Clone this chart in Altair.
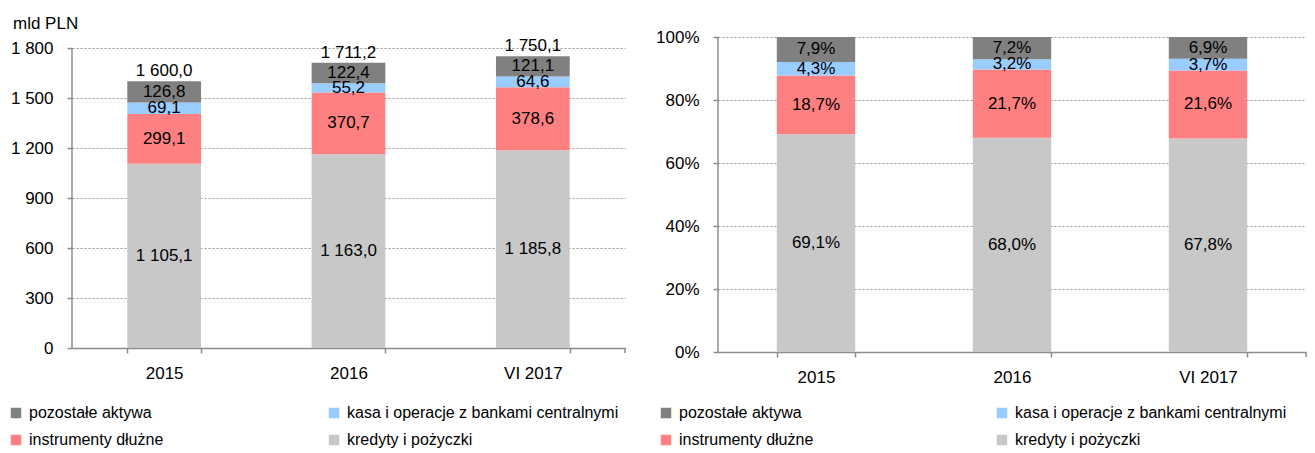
import altair as alt
import pandas as pd

FONT = "Liberation Sans, Arial"
FS = 17
LFS = 16

categories = ["2015", "2016", "VI 2017"]
series = ["pozostałe aktywa", "kasa i operacje z bankami centralnymi",
          "instrumenty dłużne", "kredyty i pożyczki"]
colors = ["#808080", "#99CCFF", "#FF8080", "#C8C8C8"]
stack_order = [3, 2, 1, 0]  # kredyty at the bottom
# legend is filled column by column: order the domain so rows read as in the original
legend_order = [0, 2, 1, 3]

# left panel: mld PLN
pozostale_mld = [126.8, 122.4, 121.1]
kasa_mld = [69.1, 55.2, 64.6]
instrumenty_mld = [299.1, 370.7, 378.6]
kredyty_mld = [1105.1, 1163.0, 1185.8]
totals_mld = [1600.0, 1711.2, 1750.1]

# right panel: structure in %
pozostale_pct = [7.9, 7.2, 6.9]
kasa_pct = [4.3, 3.2, 3.7]
instrumenty_pct = [18.7, 21.7, 21.6]
kredyty_pct = [69.1, 68.0, 67.8]

left_ticks = [0, 300, 600, 900, 1200, 1500, 1800]
right_ticks = [0, 20, 40, 60, 80, 100]


def pl(v):
    return f"{v:,.1f}".replace(",", " ").replace(".", ",")


def build(vals, pct):
    rows = []
    for s, o, arr in zip(series, stack_order, vals):
        for c, v in zip(categories, arr):
            rows.append({"cat": c, "series": s, "order": o, "value": v,
                         "label": pl(v) + ("%" if pct else "")})
    return pd.DataFrame(rows)


df_left = build([pozostale_mld, kasa_mld, instrumenty_mld, kredyty_mld], False)
df_right = build([pozostale_pct, kasa_pct, instrumenty_pct, kredyty_pct], True)
df_tot = pd.DataFrame({"cat": categories, "total": totals_mld,
                       "label": [pl(v) for v in totals_mld]})

AX = "#8C8C8C"
dom = [series[i] for i in legend_order]
rng = [colors[i] for i in legend_order]


def panel(df, width, height, ymax, ticks, label_expr, legend_x, legend_y, col_pad, domain_top):
    xenc = alt.X("cat:N", sort=categories,
                 scale=alt.Scale(paddingInner=0.6, paddingOuter=0.3),
                 axis=alt.Axis(title=None, labelAngle=0, tickBand="extent",
                               domainColor=AX, domainWidth=1.5, tickColor=AX,
                               tickWidth=1.5, tickSize=5, labelFontSize=FS,
                               labelFont=FONT, labelColor="black",
                               labelPadding=12, grid=False))
    yscale = alt.Scale(domain=[0, ymax], nice=False, zero=True)
    base = alt.Chart(df).transform_stack(
        stack="value", groupby=["cat"],
        sort=[alt.SortField("order", order="ascending")],
        as_=["v0", "v1"]
    ).transform_calculate(mid="(datum.v0 + datum.v1) / 2")
    bars = base.mark_bar(clip=True).encode(
        x=xenc,
        y=alt.Y("v0:Q", scale=yscale,
                axis=alt.Axis(title=None, values=ticks, labelExpr=label_expr,
                              domain=False, tickColor=AX, tickWidth=1.5,
                              tickSize=5, labelFontSize=FS, labelFont=FONT,
                              labelColor="black", labelPadding=14,
                              gridColor="#999999", gridDash=[2, 2],
                              gridWidth=1)),
        y2="v1:Q",
        color=alt.Color("series:N", scale=alt.Scale(domain=dom, range=rng),
                        legend=alt.Legend(title=None, orient="none",
                                          legendX=legend_x, legendY=legend_y,
                                          columns=2, columnPadding=col_pad,
                                          rowPadding=11, padding=0,
                                          symbolType="square",
                                          symbolSize=110, symbolStrokeWidth=0,
                                          labelFontSize=LFS, labelFont=FONT,
                                          labelColor="black", labelOffset=5,
                                          labelLimit=500)),
        order=alt.Order("order:Q", sort="ascending"),
    )
    texts = base.mark_text(fontSize=FS, font=FONT, color="black").encode(
        x=alt.X("cat:N", sort=categories),
        y=alt.Y("mid:Q"),
        text="label:N",
    )
    axis_line = alt.Chart(pd.DataFrame({"a": [0], "b": [domain_top]})).mark_rule(
        color=AX, strokeWidth=1.5).encode(
        x=alt.value(0), y=alt.Y("a:Q"), y2="b:Q")
    end_tick = alt.Chart(pd.DataFrame({"a": [0]})).mark_rule(
        color=AX, strokeWidth=1.5).encode(
        x=alt.value(width), y=alt.value(height), y2=alt.value(height + 5))
    return [bars, texts, axis_line, end_tick], width, height


l_layers, lw, lh = panel(df_left, 553, 311, 1866, left_ticks,
                         "replace(format(datum.value, ',d'), ',', ' ')",
                         -64, 368, 162, 1800)
totals = alt.Chart(df_tot).mark_text(fontSize=FS, font=FONT, color="black",
                                      baseline="bottom", dy=-1).encode(
    x=alt.X("cat:N", sort=categories), y=alt.Y("total:Q"), text="label:N")
left = alt.layer(*l_layers, totals).properties(
    width=lw, height=lh,
    title=alt.TitleParams("mld PLN", anchor="start", frame="group", dx=-59,
                          fontSize=FS, font=FONT, fontWeight="normal",
                          color="black", offset=4))

r_layers, rw, rh = panel(df_right, 588, 315, 100, right_ticks,
                         "datum.value + '%'", -60, 368, 180, 100)
right = alt.layer(*r_layers).properties(width=rw, height=rh)

chart = alt.hconcat(left, right, spacing=93, bounds="flush").resolve_scale(
    color="independent").resolve_legend(color="independent").properties(
    padding={"left": 0, "top": 7, "right": 0, "bottom": 0}
).configure_view(stroke=None)

chart.save("out.html", embed_options={"renderer": "svg", "actions": False})
